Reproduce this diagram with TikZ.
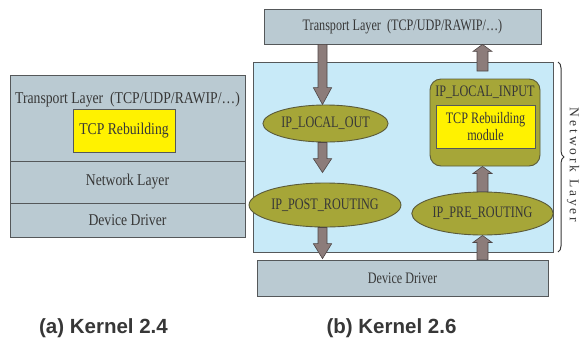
\documentclass[tikz,border=0pt]{standalone}
\usepackage{fontspec}
\setmainfont{Liberation Serif}
\setsansfont{Liberation Sans}
\newfontfamily\leftfont[FakeStretch=0.83]{Liberation Serif}
\newfontfamily\rightfont[FakeStretch=0.76]{Liberation Serif}
\newfontfamily\bracefont[LetterSpace=22]{Liberation Serif}
\usetikzlibrary{shapes.geometric,calc,decorations.pathreplacing}

\definecolor{boxgray}{RGB}{186,202,210}
\definecolor{netblue}{RGB}{200,234,248}
\definecolor{olive}{RGB}{166,166,56}
\definecolor{oliveline}{RGB}{90,90,58}
\definecolor{hiyellow}{RGB}{255,242,0}
\definecolor{arrowfill}{RGB}{140,124,122}
\definecolor{arrowline}{RGB}{78,70,70}
\definecolor{linegray}{RGB}{85,88,90}
\definecolor{textgray}{RGB}{55,55,55}

% vertical block arrow: #1 start, #2 tip, #3 half shaft, #4 half head, #5 head length
\newcommand\blockarrow[5]{%
  \coordinate (ba-h) at ($(#2)!#5!(#1)$);
  \filldraw[blockarr] ($(#1)!#3!90:(#2)$) -- ($(ba-h)!#3!90:(#2)$)
    -- ($(ba-h)!#4!90:(#2)$) -- (#2) -- ($(ba-h)!#4!-90:(#2)$)
    -- ($(ba-h)!#3!-90:(#2)$) -- ($(#1)!#3!-90:(#2)$) -- cycle;}

\begin{document}
\begin{tikzpicture}[x=1pt,y=-1pt,
  every node/.style={text=textgray, inner sep=0pt},
  lefttxt/.style={font=\fontsize{16.5}{18}\leftfont},
  righttxt/.style={font=\fontsize{16}{17.7}\rightfont},
  layerbox/.style={draw=linegray, fill=boxgray, line width=0.8pt, rectangle},
  hibox/.style={draw=linegray, fill=hiyellow, line width=0.8pt, rectangle},
  hookbox/.style={draw=oliveline, fill=olive, line width=0.9pt, ellipse, righttxt},
  blockarr/.style={fill=arrowfill, draw=arrowline, line width=0.6pt, line join=miter},
  caption/.style={font=\fontsize{20.5}{23}\sffamily\bfseries, text=textgray}]
\useasboundingbox (0,0) rectangle (581,349);

% ---- (a) Kernel 2.4: stacked layers
\node[layerbox, minimum width=235pt, minimum height=86pt] (ktrans) at (127.5,118) {};
\node[lefttxt] (ktranslbl) at (127.5,100) {Transport Layer~~(TCP/UDP/RAWIP/…)};
\node[hibox, lefttxt, minimum width=102pt, minimum height=43pt] (krebuild) at (124,130.5) {TCP Rebuilding};
\node[layerbox, lefttxt, minimum width=235pt, minimum height=42pt] (knet) at (127.5,182) {Network Layer};
\node[layerbox, lefttxt, minimum width=235pt, minimum height=34pt] (kdev) at (127.5,220) {Device Driver};

% ---- (b) Kernel 2.6: netfilter hooks
\node[draw=linegray, fill=netblue, line width=0.8pt, minimum width=300pt, minimum height=190pt] (netbox) at (403,157) {};
\node[layerbox, righttxt, minimum width=277pt, minimum height=35pt] (trans) at (402.5,26.5) {Transport Layer~~(TCP/UDP/RAWIP/…)};
\node[layerbox, righttxt, minimum width=291pt, minimum height=36pt] (dev) at (402.5,278) {Device Driver};

\node[hookbox, minimum width=123pt, minimum height=37pt] (lout) at (325.5,123.5) {IP\_LOCAL\_OUT};
\node[hookbox, minimum width=136pt, minimum height=44pt] (post) at (325,205) {IP\_POST\_ROUTING};
\node[hookbox, minimum width=129pt, minimum height=43pt] (pre) at (482.5,213.5) {IP\_PRE\_ROUTING};

\node[draw=oliveline, fill=olive, line width=0.9pt, rounded corners=11pt,
      minimum width=110pt, minimum height=87pt] (lin) at (485,122.5) {};
\node[righttxt] (linlbl) at (485,92) {IP\_LOCAL\_INPUT};
\node[hibox, righttxt, minimum width=99pt, minimum height=43pt, align=center] (rebuild) at (485.5,126.5)
  {TCP Rebuilding\\module};

% arrow columns
\coordinate (colL) at (322.5,0);
\coordinate (colR) at (482.5,0);

% outgoing path
\coordinate (a1s) at (colL |- trans.south);
\coordinate (a1e) at (colL |- lout.north);
\coordinate (a2s) at (colL |- lout.south);
\coordinate (a2e) at ($(colL |- post.north)+(0,10pt)$);
\coordinate (a3s) at (colL |- post.south);
\coordinate (a3e) at ($(colL |- dev.north)+(0,1pt)$);
\blockarrow{a1s}{a1e}{4.5pt}{9.2pt}{17pt}
\blockarrow{a2s}{a2e}{4.5pt}{9.2pt}{14pt}
\blockarrow{a3s}{a3e}{4.5pt}{9.2pt}{15pt}

% incoming path
\coordinate (a4s) at (colR |- dev.north);
\coordinate (a4e) at (colR |- pre.south);
\coordinate (a5s) at (colR |- pre.north);
\coordinate (a5e) at (colR |- lin.south);
\coordinate (a6s) at (482.5,71);
\coordinate (a6e) at (colR |- trans.south);
\blockarrow{a4s}{a4e}{5.5pt}{9.5pt}{7pt}
\blockarrow{a5s}{a5e}{5.5pt}{9.5pt}{7pt}
\blockarrow{a6s}{a6e}{5.5pt}{9.5pt}{7pt}

% network layer brace
\coordinate (brtop) at (558,62);
\coordinate (brbot) at (558,252);
\draw[textgray, line width=1pt, decorate, decoration={brace, amplitude=6pt}] (brtop) -- (brbot);
\node[font=\fontsize{13.5}{15}\bracefont, rotate=-90] (netlbl) at (573,165) {Network Layer};

% captions
\node[caption] (capa) at (103.5,328) {(a) Kernel 2.4};
\node[caption] (capb) at (391.5,328) {(b) Kernel 2.6};
\end{tikzpicture}
\end{document}
